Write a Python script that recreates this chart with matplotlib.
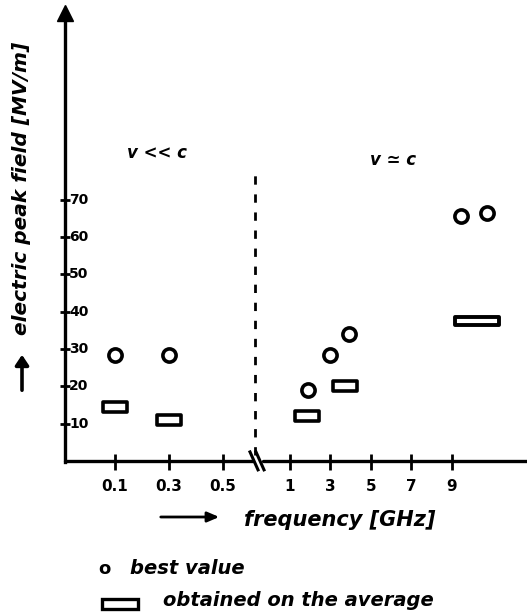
import matplotlib
matplotlib.use("Agg")
import matplotlib.pyplot as plt
import numpy as np
from matplotlib.path import Path

# values
tick_freq_low = [0.1, 0.3, 0.5]
tick_freq_high = [1, 3, 5, 7, 9]
field_ticks = [10, 20, 30, 40, 50, 60, 70]

best_freq = [0.1, 0.3, 1.9, 3.0, 3.9, 9.45, 10.75]
best_field = [28.5, 28.5, 19, 28.5, 34, 65.5, 66.5]

avg_freq = [0.1, 0.3, 1.85, 3.7]
avg_field = [14.5, 11, 12, 20]
band_freq = [10.25]
band_field = [37.5]


def freq_pos(f):
    # broken axis: two linear pieces
    f = np.asarray(f, dtype=float)
    return np.where(f < 0.75, 50 + 270 * (f - 0.1), 225 + 20.2 * (f - 1))


W, H = 527, 614
fig = plt.figure(figsize=(W / 100, H / 100), dpi=100)
ax = fig.add_axes([65 / W, 1 - 462 / H, 462 / W, 449 / H])
ax.set_xlim(0, 462)
ax.set_ylim(-0.3, 120)
for s in ["top", "right", "bottom"]:
    ax.spines[s].set_visible(False)
ax.spines["left"].set_linewidth(2.4)
ax.patch.set_alpha(0)

ink = "black"
lw = 2.4

# x axis with break
brk = 192
ax.plot([0, brk - 4], [0, 0], color=ink, lw=lw, clip_on=False, solid_capstyle="round")
ax.plot([brk + 6, 462], [0, 0], color=ink, lw=lw, clip_on=False, solid_capstyle="round")
for dx in (-3, 3):
    ax.plot([brk - 4 + dx, brk + 4 + dx], [2.4, -2.4], color=ink, lw=2.2, clip_on=False)

# y axis arrow head
ax.plot([0], [1], marker="^", ms=11, color=ink, transform=ax.transAxes, clip_on=False)

# ticks
xt = np.concatenate([freq_pos(tick_freq_low), freq_pos(tick_freq_high)])
xl = [str(v) for v in tick_freq_low] + [str(v) for v in tick_freq_high]
ax.set_xticks(xt)
ax.set_xticklabels(xl, fontsize=11, fontweight="bold")
ax.tick_params(axis="x", direction="inout", length=11, width=2, pad=7)
ax.set_yticks(field_ticks)
ax.set_yticklabels([])
ax.tick_params(axis="y", direction="inout", length=7, width=2)
for v in field_ticks:
    ax.text(4, v, str(v), fontsize=10, fontweight="bold", ha="left", va="center")

# dashed separator
ax.plot([190, 190], [1.5, 78], color=ink, lw=2, linestyle=(0, (3, 3.5)))

# data marks
ax.plot(freq_pos(best_freq), best_field, "o", ms=9.5, mfc="white", mec=ink, mew=2.6)

rect_small = Path([(-1.1, -0.45), (1.1, -0.45), (1.1, 0.45), (-1.1, 0.45), (-1.1, -0.45)],
                  [1, 2, 2, 2, 79])
rect_wide = Path([(-1.9, -0.3), (1.9, -0.3), (1.9, 0.3), (-1.9, 0.3), (-1.9, -0.3)],
                 [1, 2, 2, 2, 79])
ax.plot(freq_pos(avg_freq), avg_field, linestyle="none", marker=rect_small, ms=17,
        mfc="white", mec=ink, mew=2.6)
ax.plot(freq_pos(band_freq), band_field, linestyle="none", marker=rect_wide, ms=32,
        mfc="white", mec=ink, mew=2.8)

# regime labels
ax.text(62, 82.5, "v << c", fontsize=12, fontweight="bold", style="italic", ha="left", va="center")
ax.text(305, 80.5, "v \u2243 c", fontsize=12, fontweight="bold", style="italic", ha="left", va="center")

# axis titles
fig.text(22 / W, 1 - 188 / H, "electric peak field [MV/m]", rotation=90, fontsize=14.5,
         fontweight="bold", style="italic", ha="center", va="center")
fig.patches.append(matplotlib.patches.FancyArrowPatch(
    (22 / W, 1 - 393 / H), (22 / W, 1 - 352 / H), transform=fig.transFigure,
    arrowstyle="-|>,head_length=6,head_width=4", lw=2.6, color=ink))

fig.text(340 / W, 1 - 520 / H, "frequency [GHz]", fontsize=15, style="italic",
         fontweight="bold", ha="center", va="center")
fig.patches.append(matplotlib.patches.FancyArrowPatch(
    (158 / W, 1 - 517 / H), (222 / W, 1 - 517 / H), transform=fig.transFigure,
    arrowstyle="-|>,head_length=7,head_width=3", lw=2, color=ink))

# legend drawn by hand
fig.text(104 / W, 1 - 569 / H, "o", fontsize=13, fontweight="bold", ha="center", va="center")
fig.text(130 / W, 1 - 568 / H, "best value", fontsize=14, style="italic", fontweight="bold",
         ha="left", va="center")
fig.patches.append(matplotlib.patches.Rectangle(
    (102 / W, 1 - 609 / H), 36 / W, 10 / H, transform=fig.transFigure,
    fc="white", ec=ink, lw=2.4))
fig.text(163 / W, 1 - 601 / H, "obtained on the average", fontsize=14, style="italic",
         fontweight="bold", ha="left", va="center")

fig.savefig("out.png", dpi=100)
